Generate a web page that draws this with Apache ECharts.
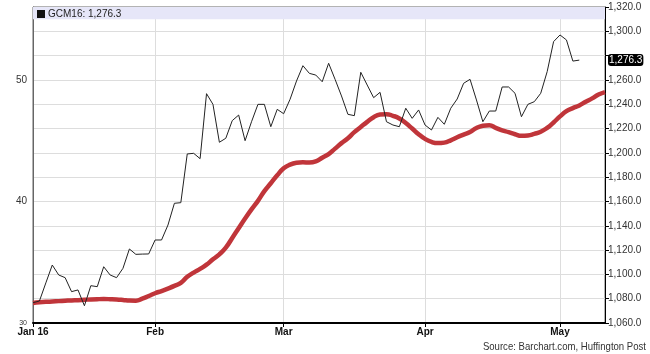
<!DOCTYPE html>
<html>
<head>
<meta charset="utf-8">
<title>GCM16</title>
<script src="https://cdn.jsdelivr.net/npm/echarts@6/dist/echarts.min.js"></script>
<style>
html, body { margin: 0; padding: 0; background: #fff; }
#gcChart { width: 650px; height: 354px; }
</style>
</head>
<body>
<div id="gcChart"></div>
<script>
// trading days, Jan 4 - May 11 2016
var dates = [
	'2016-01-04','2016-01-05','2016-01-06','2016-01-07','2016-01-08','2016-01-11','2016-01-12','2016-01-13','2016-01-14','2016-01-15',
	'2016-01-19','2016-01-20','2016-01-21','2016-01-22','2016-01-25','2016-01-26','2016-01-27','2016-01-28','2016-01-29',
	'2016-02-01','2016-02-02','2016-02-03','2016-02-04','2016-02-05','2016-02-08','2016-02-09','2016-02-10','2016-02-11','2016-02-12',
	'2016-02-16','2016-02-17','2016-02-18','2016-02-19','2016-02-22','2016-02-23','2016-02-24','2016-02-25','2016-02-26','2016-02-29',
	'2016-03-01','2016-03-02','2016-03-03','2016-03-04','2016-03-07','2016-03-08','2016-03-09','2016-03-10','2016-03-11','2016-03-14',
	'2016-03-15','2016-03-16','2016-03-17','2016-03-18','2016-03-21','2016-03-22','2016-03-23','2016-03-24','2016-03-28','2016-03-29',
	'2016-03-30','2016-03-31',
	'2016-04-01','2016-04-04','2016-04-05','2016-04-06','2016-04-07','2016-04-08','2016-04-11','2016-04-12','2016-04-13','2016-04-14',
	'2016-04-15','2016-04-18','2016-04-19','2016-04-20','2016-04-21','2016-04-22','2016-04-25','2016-04-26','2016-04-27','2016-04-28',
	'2016-04-29',
	'2016-05-02','2016-05-03','2016-05-04','2016-05-05','2016-05-06','2016-05-09','2016-05-10','2016-05-11'
];

var monthLabels = {
	'2016-01-04': 'Jan 16',
	'2016-02-01': 'Feb',
	'2016-03-01': 'Mar',
	'2016-04-01': 'Apr',
	'2016-05-02': 'May'
};

// GCM16 daily close
var price = [
	1076.7, 1078.1, 1093.0, 1107.7, 1099.5, 1097.3, 1085.8, 1087.2, 1074.2, 1090.7,
	1089.9, 1106.3, 1099.5, 1097.3, 1105.0, 1120.9, 1116.5, 1116.7, 1116.8, 1128.3,
	1128.3, 1140.6, 1158.5, 1159.0, 1199.1, 1199.6, 1195.2, 1248.7, 1239.9, 1208.7,
	1212.0, 1226.5, 1231.1, 1210.0, 1225.6, 1239.9, 1239.9, 1221.5, 1235.8, 1232.2,
	1244.1, 1259.1, 1271.7, 1265.4, 1264.0, 1258.5, 1273.7, 1260.5, 1246.8, 1231.7,
	1230.6, 1266.3, 1255.8, 1245.4, 1249.8, 1225.6, 1222.9, 1221.5, 1236.7, 1228.4,
	1235.3, 1222.9, 1218.8, 1229.2, 1223.5, 1236.7, 1244.3, 1257.2, 1260.5, 1243.5,
	1225.6, 1234.4, 1234.4, 1254.2, 1254.2, 1249.0, 1229.7, 1239.9, 1242.1, 1249.0,
	1266.8, 1291.5, 1297.0, 1292.9, 1275.5, 1276.3
];

// moving average (red)
var avg = [
	1076.5, 1077.0, 1077.4, 1077.7, 1078.0, 1078.3, 1078.6, 1078.8, 1079.1, 1079.4,
	1079.6, 1079.7, 1079.6, 1079.4, 1079.0, 1078.5, 1078.4, 1080.0, 1082.2, 1084.5,
	1086.3, 1088.3, 1090.5, 1093.0, 1098.0, 1101.5, 1104.5, 1108.0, 1112.5, 1116.5,
	1122.0, 1130.0, 1138.0, 1146.0, 1153.5, 1160.5, 1168.5, 1175.0, 1181.5, 1187.3,
	1190.3, 1191.8, 1192.2, 1192.0, 1193.0, 1196.0, 1199.0, 1203.5, 1208.0, 1212.0,
	1217.0, 1221.3, 1225.5, 1229.3, 1231.5, 1231.8, 1230.5, 1228.3, 1224.5, 1220.0,
	1215.3, 1211.5, 1209.0, 1208.0, 1208.4, 1210.3, 1212.8, 1215.0, 1217.2, 1220.5,
	1222.3, 1222.8, 1220.6, 1218.5, 1217.0, 1215.3, 1214.0, 1214.3, 1215.6, 1217.3,
	1220.5, 1225.0, 1230.0, 1234.3, 1236.8, 1239.0, 1242.0, 1244.8, 1248.0, 1250.0
];

var seriesName = 'GCM16: 1,276.3';
var lastPrice = 1276.3;

function isMonthStart(index, value) {
	return monthLabels[value] !== undefined;
}

function fmtPrice(v) {
	return v.toFixed(1).replace(/\B(?=(\d{3})+(?!\d))/g, ',');
}

var gcChart = echarts.init(document.getElementById('gcChart'));
gcChart.setOption({
	animation: false,
	textStyle: { fontFamily: 'Liberation Sans, Arial, sans-serif' },
	grid: {
		left: 33,
		right: 45,
		top: 7,
		bottom: 31,
		show: true,
		borderColor: '#666',
		borderWidth: 1
	},
	legend: {
		data: [{ name: seriesName, icon: 'rect' }],
		left: 37,
		top: 9,
		itemWidth: 8,
		itemHeight: 8,
		itemGap: 4,
		padding: 0,
		selectedMode: false,
		textStyle: { color: '#222', fontSize: 10, padding: [0, 0, 0, -2] }
	},
	axisPointer: { triggerOn: 'none' },
	xAxis: {
		type: 'category',
		data: dates,
		boundaryGap: false,
		axisLine: { lineStyle: { color: '#000', width: 2 } },
		axisTick: { interval: isMonthStart, length: 4, lineStyle: { color: '#000' } },
		axisLabel: {
			interval: isMonthStart,
			formatter: function (v) { return monthLabels[v] || ''; },
			color: '#111',
			fontWeight: 'bold',
			fontSize: 10,
			margin: 4
		},
		splitLine: { show: true, interval: isMonthStart, lineStyle: { color: '#ddd' } }
	},
	yAxis: [
		{
			type: 'value',
			position: 'right',
			min: 1060,
			max: 1320,
			interval: 20,
			axisLine: { show: true, lineStyle: { color: '#000' } },
			axisTick: { show: true, length: 4, lineStyle: { color: '#000' } },
			axisLabel: {
				color: '#333',
				fontSize: 10,
				margin: 3,
				formatter: function (v) {
					// the last-price box sits over this label
					if (Math.abs(v - lastPrice) < 8) return '';
					return fmtPrice(v);
				}
			},
			splitLine: { lineStyle: { color: '#ddd' } },
			axisPointer: {
				show: true,
				type: 'none',
				value: lastPrice,
				status: 'show',
				triggerTooltip: false,
				label: {
					show: true,
					formatter: function () { return fmtPrice(lastPrice); },
					color: '#fff',
					backgroundColor: '#000',
					fontSize: 10,
					padding: [1, 1, 1, 1],
					margin: 3
				}
			}
		},
		{
			type: 'value',
			position: 'left',
			min: 30,
			max: 56,
			interval: 10,
			axisLine: { show: true, lineStyle: { color: '#666' } },
			axisTick: { show: false },
			splitLine: { show: false },
			axisLabel: {
				color: '#333',
				fontSize: 10,
				margin: 6,
				formatter: function (v) {
					if (v === 30) return '{s|30}';
					return v % 10 === 0 ? String(v) : '';
				},
				rich: { s: { fontSize: 7, color: '#333' } }
			}
		}
	],
	series: [
		{
			name: 'avg',
			type: 'line',
			yAxisIndex: 0,
			data: avg,
			smooth: true,
			symbol: 'none',
			lineStyle: { color: '#c0353a', width: 4.5 },
			z: 2,
			markArea: {
				silent: true,
				itemStyle: { color: '#e6e6f8' },
				data: [[{ yAxis: 1310 }, { yAxis: 1320 }]]
			}
		},
		{
			name: seriesName,
			type: 'line',
			yAxisIndex: 0,
			data: price,
			symbol: 'none',
			itemStyle: { color: '#111' },
			lineStyle: { color: '#222', width: 1 },
			z: 3
		}
	],
	graphic: [
		{
			type: 'text',
			right: 4,
			bottom: 2,
			scaleX: 0.87,
			originX: 160,
			style: {
				text: 'Source: Barchart.com, Huffington Post',
				fill: '#333',
				font: '11px "Liberation Sans", sans-serif'
			}
		}
	]
});
</script>
</body>
</html>
